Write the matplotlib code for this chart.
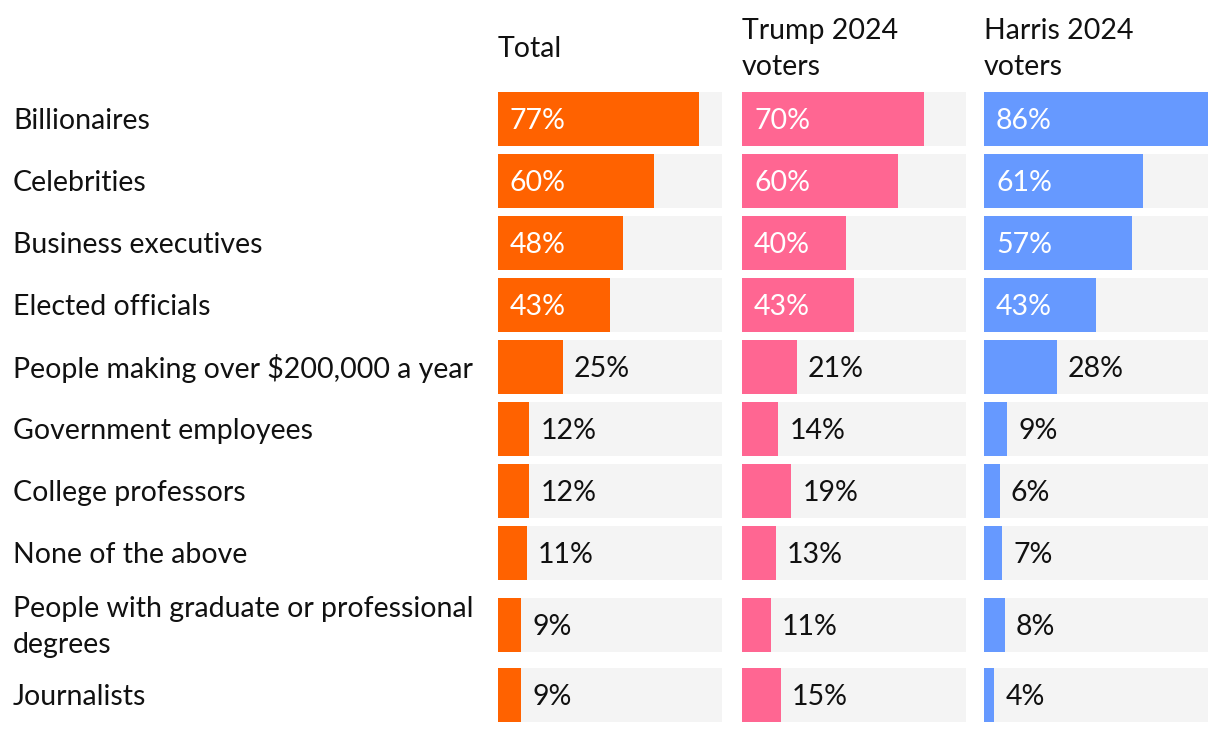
import matplotlib
matplotlib.use("Agg")
import matplotlib.pyplot as plt

plt.rcParams['font.family'] = ['Lato', 'DejaVu Sans']

categories = ['Billionaires', 'Celebrities', 'Business executives', 'Elected officials',
              'People making over $200,000 a year', 'Government employees',
              'College professors', 'None of the above',
              'People with graduate or professional\ndegrees', 'Journalists']
total = [77, 60, 48, 43, 25, 12, 12, 11, 9, 9]
trump = [70, 60, 40, 43, 21, 14, 19, 13, 11, 15]
harris = [86, 61, 57, 43, 28, 9, 6, 7, 8, 4]
headers = ['Total', 'Trump 2024\nvoters', 'Harris 2024\nvoters']
colors = ['#ff6200', '#ff6692', '#6699ff']

W, H = 1220, 732
# row centres in pixels (layout)
row_y = [119, 181, 243, 305, 367, 429, 491, 553, 625, 695]
bar_h = 54
panel_left = [498, 742, 984]
panel_w = 224
xmax = max(total + trump + harris)
fs = 20.5
dy = 2  # nudge text down a bit

fig = plt.figure(figsize=(W / 100, H / 100), dpi=100)
fig.patch.set_facecolor('white')
txt = '#111111'

for y, lab in zip(row_y, categories):
    fig.text(13 / W, 1 - (y + dy) / H, lab, ha='left', va='center', fontsize=fs,
             color=txt, linespacing=1.5)

for i, (vals, head) in enumerate(zip([total, trump, harris], headers)):
    ax = fig.add_axes([panel_left[i] / W, 0, panel_w / W, 1])
    ax.set_xlim(0, xmax)
    ax.set_ylim(H, 0)
    ax.axis('off')
    ax.barh(row_y, [xmax] * len(row_y), height=bar_h, color='#f4f4f4', left=0)
    ax.barh(row_y, vals, height=bar_h, color=colors[i])
    px = xmax / panel_w  # data units per pixel
    for y, v in zip(row_y, vals):
        if v >= 35:
            ax.text(12 * px, y + dy, f'{v}%', ha='left', va='center', color='white',
                    fontsize=fs)
        else:
            ax.text(v + 11 * px, y + dy, f'{v}%', ha='left', va='center', color=txt,
                    fontsize=fs)
    ax.text(0, 47 + dy, head, ha='left', va='center', fontsize=fs, color=txt,
            linespacing=1.5)

fig.savefig('out.png', dpi=100)
